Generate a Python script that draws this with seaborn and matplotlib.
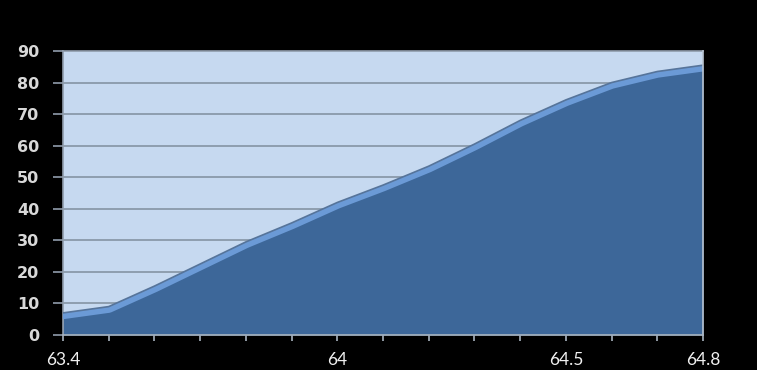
import matplotlib
matplotlib.use("Agg")
import matplotlib.pyplot as plt
import seaborn as sns
import numpy as np
import pandas as pd

# data
x_values = [63.4, 63.5, 63.6, 63.7, 63.8, 63.9, 64.0, 64.1, 64.2, 64.3, 64.4, 64.5, 64.6, 64.7, 64.8]
y_values = [7, 9, 15.5, 22.5, 29.5, 35.5, 42, 47.5, 53.5, 60.5, 68, 74.5, 80, 83.5, 85.5]
x_label_values = [63.4, 64.0, 64.5, 64.8]
x_label_texts = ["63.4", "64", "64.5", "64.8"]
y_ticks = [0, 10, 20, 30, 40, 50, 60, 70, 80, 90]

df = pd.DataFrame({"x": x_values, "y": y_values})

sns.set_style("white")
plt.rcParams["font.family"] = ["DejaVu Sans"]

fig = plt.figure(figsize=(7.57, 3.70), dpi=100, facecolor="black")
ax = fig.add_axes([63/757, 1-335/370, 640/757, 284/370])
ax.set_facecolor("#c6d9f0")

fill_dark = "#3d6799"
band = "#6b9ad6"
edge = "#56749a"

poly = ax.fill_between(df["x"], df["y"], 0, color=fill_dark, zorder=2, linewidth=0)
sns.lineplot(data=df, x="x", y="y", ax=ax, color=band, linewidth=9, zorder=3, legend=False)
band_line = ax.lines[-1]
band_line.set_clip_path(poly.get_paths()[0], transform=ax.transData)
sns.lineplot(data=df, x="x", y="y", ax=ax, color=edge, linewidth=1.2, zorder=4, legend=False)

ax.set_xlim(63.4, 64.8)
ax.set_ylim(0, 90)
ax.set_yticks(y_ticks)
ax.set_yticklabels([str(v) for v in y_ticks])
ax.set_xticks(x_values)
labs = []
for v in x_values:
    t = ""
    for lv, lt in zip(x_label_values, x_label_texts):
        if abs(v - lv) < 1e-6:
            t = lt
    labs.append(t)
ax.set_xticklabels(labs)

ax.set_xlabel("")
ax.set_ylabel("")

for yv in y_ticks[1:-1]:
    ax.axhline(yv, color="#8a99aa", linewidth=1.3, zorder=1)

for s in ax.spines.values():
    s.set_color("#8f9cab")
    s.set_linewidth(1.2)
ax.spines["bottom"].set_color("#a9b4c0")
ax.spines["bottom"].set_zorder(5)
ax.spines["right"].set_color("#b8c3d0")
ax.spines["right"].set_zorder(5)

ax.tick_params(axis="y", colors="#8f9cab", labelcolor="#d8d8d8", length=7, width=1.2,
               pad=10, labelsize=11.5, left=True)
ax.tick_params(axis="x", colors="#a9b4c0", labelcolor="#f0f0f0", length=4, width=1.2,
               pad=8, labelsize=12.5, bottom=True)
for t in ax.get_xticklabels():
    t.set_fontfamily(["Lato", "DejaVu Sans"])
for t in ax.get_yticklabels():
    t.set_fontweight("bold")

fig.savefig("out.png", dpi=100, facecolor="black")
